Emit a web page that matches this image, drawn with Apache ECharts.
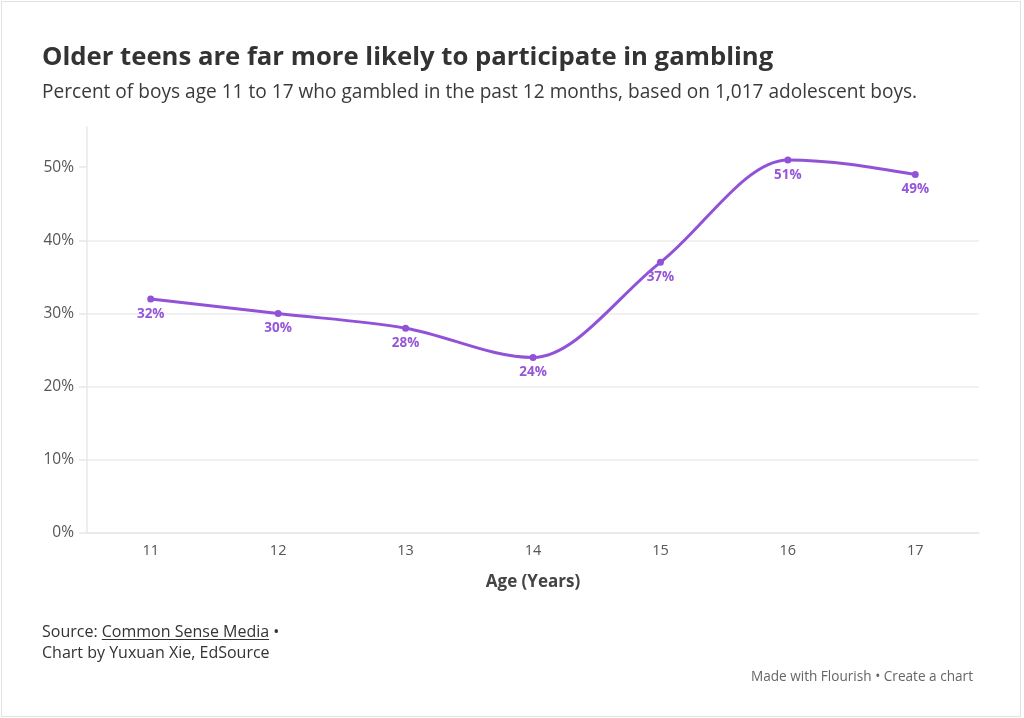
<!DOCTYPE html>
<html>
<head>
<meta charset="utf-8">
<script src="https://cdn.jsdelivr.net/npm/echarts@6/dist/echarts.min.js"></script>
<style>
  html, body { margin: 0; padding: 0; background: #fff; }
  #chart { position: absolute; left: 0; top: 0; width: 1024px; height: 718px; }
  #frame { position: absolute; left: 1px; top: 1px; width: 1018px; height: 714px; border: 1px solid #e2e2e2; pointer-events: none; }
  #source { position: absolute; left: 42px; top: 621px; font-family: 'Open Sans', sans-serif; font-size: 16px; line-height: 21px; color: #333; }
  #source u { text-decoration: underline; text-underline-offset: 2px; }
  #flourish { position: absolute; right: 51px; top: 667px; font-family: 'Open Sans', sans-serif; font-size: 13.6px; line-height: 18px; color: #666; }
</style>
</head>
<body>
<div id="chart"></div>
<div id="frame"></div>
<div id="source">Source: <u>Common Sense Media</u> •<br>Chart by Yuxuan Xie, EdSource</div>
<div id="flourish">Made with Flourish • Create a chart</div>
<script>
const ages = ['11', '12', '13', '14', '15', '16', '17'];
const gambledPct = [32, 30, 28, 24, 37, 51, 49];
const yTicks = [0, 10, 20, 30, 40, 50];

const FONT = "'Open Sans', sans-serif";
const PURPLE = '#9152d8';

// Monotone-X cubic (as in d3.curveMonotoneX), computed in pixel space from the data coords.
function monotoneTangents(pts) {
  const n = pts.length, t = new Array(n).fill(0);
  const sgn = v => (v < 0 ? -1 : 1);
  for (let k = 1; k < n - 1; k++) {
    const h0 = pts[k][0] - pts[k - 1][0], h1 = pts[k + 1][0] - pts[k][0];
    const s0 = (pts[k][1] - pts[k - 1][1]) / h0, s1 = (pts[k + 1][1] - pts[k][1]) / h1;
    const p = (s0 * h1 + s1 * h0) / (h0 + h1);
    t[k] = (sgn(s0) + sgn(s1)) * Math.min(Math.abs(s0), Math.abs(s1), 0.5 * Math.abs(p)) || 0;
  }
  const hA = pts[1][0] - pts[0][0];
  t[0] = (3 * (pts[1][1] - pts[0][1]) / hA - t[1]) / 2;
  const hB = pts[n - 1][0] - pts[n - 2][0];
  t[n - 1] = (3 * (pts[n - 1][1] - pts[n - 2][1]) / hB - t[n - 2]) / 2;
  return t;
}

const chart = echarts.init(document.getElementById('chart'), null, { renderer: 'canvas' });
chart.setOption({
  animation: false,
  textStyle: { fontFamily: FONT },
  title: [
    {
      text: 'Older teens are far more likely to participate in gambling',
      left: 42, top: 42, padding: 0,
      textStyle: { fontFamily: FONT, fontSize: 25.7, fontWeight: 'bold', color: '#333', lineHeight: 32 }
    },
    {
      text: 'Percent of boys age 11 to 17 who gambled in the past 12 months, based on 1,017 adolescent boys.',
      left: 42, top: 81, padding: 0,
      textStyle: { fontFamily: FONT, fontSize: 19.1, fontWeight: 'normal', color: '#3a3a3a', lineHeight: 24 }
    }
  ],
  grid: { left: 87, right: 45, top: 127, bottom: 185, containLabel: false },
  xAxis: {
    type: 'category',
    data: ages,
    boundaryGap: true,
    name: 'Age (Years)',
    nameLocation: 'middle',
    nameGap: 41,
    nameTextStyle: { fontFamily: FONT, fontSize: 17, fontWeight: 'bold', color: '#444' },
    axisLine: { lineStyle: { color: '#e8e8e8', width: 1.5 } },
    axisTick: { alignWithLabel: true, length: 5, lineStyle: { color: '#e8e8e8', width: 1.5 } },
    axisLabel: { color: '#555', fontSize: 14.5, margin: 10, fontFamily: FONT }
  },
  yAxis: {
    type: 'value',
    min: 0,
    max: 55.5,
    interval: 10,
    axisLine: { show: true, lineStyle: { color: '#e8e8e8', width: 1.5 } },
    axisTick: { show: true, length: 8, customValues: yTicks, lineStyle: { color: '#e8e8e8', width: 1.5 } },
    axisLabel: { customValues: yTicks, formatter: '{value}%', color: '#555', fontSize: 15.5, margin: 13, fontFamily: FONT },
    splitLine: { show: true, showMaxLine: false, lineStyle: { color: '#ececec', width: 1.5 } }
  },
  series: [
    {
      type: 'custom',
      data: gambledPct.map((v, i) => [i, v]),
      encode: { x: 0, y: 1 },
      z: 2,
      silent: true,
      renderItem: function (params, api) {
        const i = params.dataIndex;
        if (i >= gambledPct.length - 1) return null;
        const pts = gambledPct.map((v, k) => api.coord([k, v]));
        const t = monotoneTangents(pts);
        const p0 = pts[i], p1 = pts[i + 1];
        const dx = (p1[0] - p0[0]) / 3;
        return {
          type: 'bezierCurve',
          shape: {
            x1: p0[0], y1: p0[1],
            cpx1: p0[0] + dx, cpy1: p0[1] + dx * t[i],
            cpx2: p1[0] - dx, cpy2: p1[1] - dx * t[i + 1],
            x2: p1[0], y2: p1[1]
          },
          style: { stroke: PURPLE, lineWidth: 3, fill: null, lineCap: 'round' }
        };
      }
    },
    {
      type: 'line',
      data: gambledPct,
      z: 3,
      symbol: 'circle',
      symbolSize: 7,
      itemStyle: { color: PURPLE },
      lineStyle: { width: 0, opacity: 0 },
      label: {
        show: true,
        position: 'bottom',
        distance: 4.5,
        formatter: '{c}%',
        color: '#9656d9',
        fontSize: 13.5,
        fontWeight: 'bold',
        fontFamily: FONT
      }
    }
  ]
});
</script>
</body>
</html>
